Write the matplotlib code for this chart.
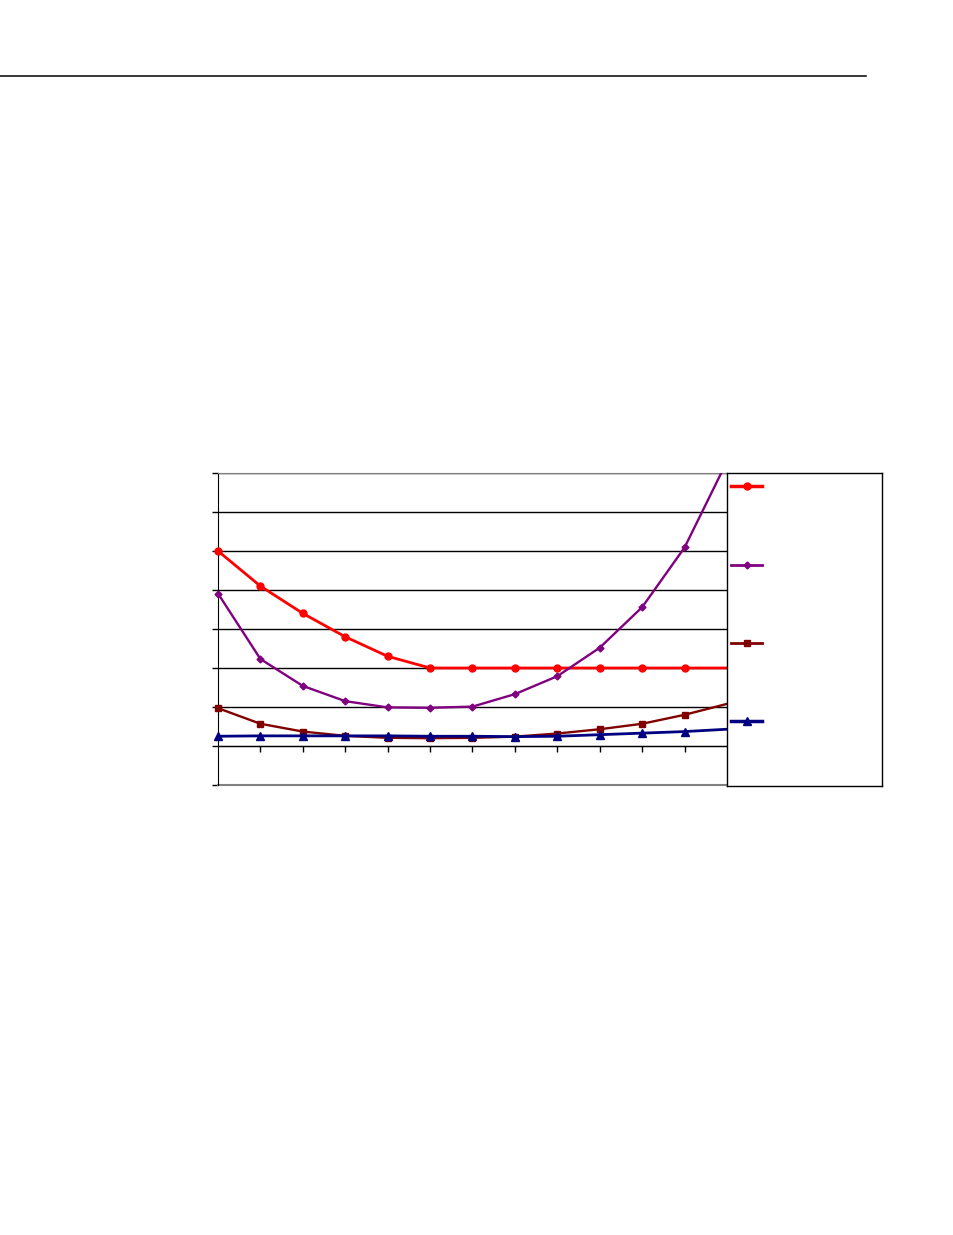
import matplotlib
matplotlib.use("Agg")
import matplotlib.pyplot as plt
from matplotlib.lines import Line2D

# ---- data ----
x_positions = list(range(13))
series_red = [5.0, 4.1, 3.4, 2.8, 2.3, 2.0, 2.0, 2.0, 2.0, 2.0, 2.0, 2.0, 2.0]
series_purple = [3.91, 2.23, 1.54, 1.15, 0.99, 0.98, 1.01, 1.33, 1.79, 2.52, 3.56, 5.09, 7.3]
series_darkred = [0.97, 0.57, 0.37, 0.26, 0.21, 0.20, 0.21, 0.24, 0.32, 0.43, 0.57, 0.80, 1.08]
series_navy = [0.25, 0.26, 0.26, 0.26, 0.26, 0.25, 0.25, 0.24, 0.25, 0.29, 0.33, 0.37, 0.43]
y_ticks = list(range(-1, 8))
x_ticks = list(range(1, 12))

W, H = 954, 1235
fig = plt.figure(figsize=(W / 100, H / 100), dpi=100)

# header rule
fig.add_artist(Line2D([0, 866 / W], [1 - 76 / H, 1 - 76 / H], color="black", lw=1.1))

ax = fig.add_axes([218 / W, 1 - 785 / H, 509 / W, 312 / H])
ax.set_xlim(0, 12)
ax.set_ylim(-1, 7)

ax.set_yticks(y_ticks)
ax.set_xticks(x_ticks)
ax.set_yticklabels([])
ax.set_xticklabels([])
ax.yaxis.grid(True, color="black", lw=1.0)
ax.set_axisbelow(True)
ax.tick_params(axis="both", direction="out", length=4, width=1, color="black")

ax.spines["right"].set_visible(False)
ax.spines["top"].set_color("#808080")
ax.spines["left"].set_color("black")
ax.spines["bottom"].set_position(("data", 0))
ax.spines["bottom"].set_color("black")
ax.axhline(-1, color="#808080", lw=1.5, clip_on=False)

styles = [
    (series_red, "#FF0000", 2.0, "o", 5, 3),
    (series_purple, "#800080", 1.7, "D", 3.5, 3),
    (series_darkred, "#800000", 1.7, "s", 5, 4),
    (series_navy, "#000080", 2.0, "^", 6, 5),
]
for ys, c, lw, m, ms, z in styles:
    ax.plot(x_positions, ys, color=c, lw=lw, zorder=z)
    ax.plot(x_positions[:12], ys[:12], color=c, lw=0, marker=m, ms=ms,
            zorder=z, clip_on=False)

# legend box (no text)
lax = fig.add_axes([727 / W, 1 - 786 / H, 155 / W, 313 / H])
lax.set_xlim(0, 1)
lax.set_ylim(0, 1)
lax.set_xticks([])
lax.set_yticks([])
for s in lax.spines.values():
    s.set_color("black")
    s.set_linewidth(1.0)
leg_specs = [
    (0.958, "#FF0000", "o", 5, 2.5),
    (0.706, "#800080", "D", 3.5, 2.0),
    (0.457, "#800000", "s", 5, 2.0),
    (0.208, "#000080", "^", 6, 2.5),
]
for yy, c, m, ms, lw in leg_specs:
    lax.plot([0.026, 0.226], [yy, yy], color=c, lw=lw)
    lax.plot([0.126], [yy], color=c, marker=m, ms=ms)

fig.savefig("out.png", dpi=100)
